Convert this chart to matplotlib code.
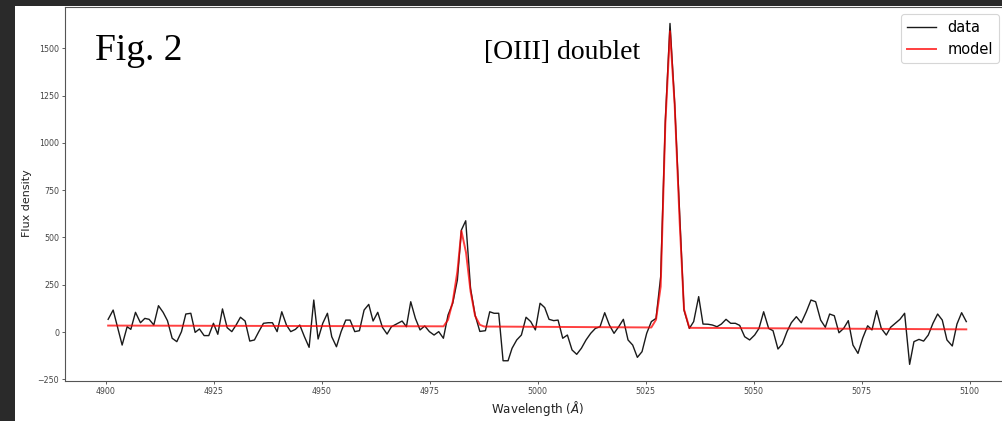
import matplotlib
matplotlib.use("Agg")
import matplotlib.pyplot as plt
from matplotlib.patches import Rectangle

# ---- data ----
data_wl = [4900.54, 4901.70, 4903.78, 4904.94, 4905.79, 4906.87, 4908.02, 4909.03, 4910.03, 4911.11,
           4912.19, 4913.27, 4914.27, 4915.36, 4916.44, 4917.52, 4918.52, 4919.68, 4920.68, 4921.68,
           4922.76, 4923.84, 4924.92, 4925.93, 4927.01, 4928.09, 4929.17, 4930.17, 4931.17, 4932.25,
           4933.33, 4934.41, 4935.42, 4936.50, 4937.58, 4938.58, 4939.66, 4940.74, 4941.82, 4942.82,
           4943.90, 4944.91, 4945.99, 4947.07, 4948.15, 4949.15, 4950.23, 4951.31, 4952.31, 4953.40,
           4954.48, 4955.56, 4956.56, 4957.64, 4958.72, 4959.80, 4960.88, 4961.88, 4962.96, 4964.04,
           4965.12, 4966.13, 4968.60, 4969.60, 4970.60, 4971.68, 4972.76, 4973.84, 4974.92, 4976.00,
           4977.08, 4978.16, 4979.24, 4980.32, 4981.40, 4982.33, 4983.33, 4984.45, 4985.50, 4986.60,
           4987.89, 4988.89, 4989.89, 4990.97, 4991.98, 4993.13, 4994.06, 4995.14, 4996.22, 4997.30,
           4998.38, 4999.46, 5000.54, 5001.62, 5002.62, 5003.70, 5004.71, 5005.79, 5006.87, 5007.95,
           5009.03, 5010.11, 5011.19, 5012.27, 5013.35, 5014.43, 5015.51, 5016.59, 5017.67, 5018.75,
           5019.83, 5020.91, 5021.99, 5023.07, 5024.15, 5025.23, 5026.31, 5027.39, 5028.47, 5029.55,
           5030.63, 5031.71, 5032.87, 5033.87, 5035.11, 5036.11, 5037.27, 5038.27, 5039.43, 5040.43,
           5041.51, 5042.52, 5043.60, 5044.68, 5045.76, 5046.76, 5047.92, 5049.07, 5050.23, 5051.23,
           5052.31, 5053.47, 5054.48, 5055.63, 5056.64, 5057.72, 5058.72, 5059.88, 5061.03, 5062.19,
           5063.27, 5064.35, 5065.51, 5066.59, 5067.59, 5068.67, 5069.75, 5070.83, 5071.91, 5072.99,
           5074.15, 5075.23, 5076.39, 5077.39, 5078.47, 5079.55, 5080.71, 5081.71, 5082.79, 5083.87,
           5084.95, 5086.11, 5087.11, 5088.27, 5089.35, 5090.43, 5091.51, 5092.59, 5093.67, 5094.75,
           5095.99, 5097.07, 5098.15, 5099.23]
data_flux = [67, 116, -69, 28, 14, 104, 49, 72, 67, 37,
             139, 104, 60, -33, -51, 2, 95, 99, -2, 16,
             -19, -19, 46, -12, 122, 23, 2, 37, 78, 58,
             -48, -42, 2, 46, 49, 49, 2, 107, 37, 2,
             14, 37, -25, -81, 169, -37, 46, 99, -25, -78,
             2, 63, 63, 2, 7, 116, 146, 58, 104, 25,
             -11, 28, 58, 28, 160, 72, 11, 32, 2, -16,
             2, -33, 90, 152, 275, 539, 588, 230, 90, 3,
             7, 107, 99, 99, -152, -152, -86, -42, -16, 78,
             55, 11, 152, 129, 67, 60, 63, -33, -16, -95,
             -118, -86, -42, -7, 19, 28, 102, 37, -7, 28,
             67, -42, -69, -134, -104, -7, 55, 72, 292, 1120,
             1631, 1209, 627, 116, 19, 55, 187, 42, 41, 37,
             28, 42, 67, 46, 46, 35, -25, -42, -16, 19,
             107, 19, 7, -90, -63, 2, 49, 81, 49, 107,
             169, 160, 63, 25, 95, 86, -4, 19, 60, -69,
             -113, -33, 33, 11, 113, 19, -16, 25, 46, 67,
             99, -171, -51, -39, -48, -16, 46, 95, 63, -42,
             -74, 42, 102, 55]

model_wl = [4900.54, 4978.20, 4979.24, 4980.32, 4981.40, 4982.33, 4983.40, 4984.45, 4985.50,
            4986.60, 4987.60, 5026.30, 5027.39, 5028.47, 5029.55, 5030.63, 5031.71, 5032.87,
            5033.87, 5035.11, 5099.23]
model_flux = [34, 30, 65, 160, 320, 535, 420, 215, 85,
              38, 29, 24, 65, 240, 1100, 1590, 1200, 580,
              120, 22, 14]

xticks = [4900, 4925, 4950, 4975, 5000, 5025, 5050, 5075, 5100]
yticks = [-250, 0, 250, 500, 750, 1000, 1250, 1500]

W, H = 1002, 421
fig = plt.figure(figsize=(W / 100, H / 100), dpi=100)
fig.patch.set_facecolor('#2a2a2a')
fig.patches.append(Rectangle((15 / W, 0), 1 - 15 / W, (H - 6) / H,
                             transform=fig.transFigure, facecolor='white',
                             edgecolor='none', zorder=-5))

ax = fig.add_axes([65 / W, 40 / H, 945 / W, 374 / H])
ax.set_zorder(2)
ax.set_facecolor('white')
ax.plot(data_wl, data_flux, color='#1a1a1a', lw=1.0, label='data')
ax.plot(model_wl, model_flux, color='red', lw=1.4, alpha=0.75, label='model')

ax.set_xlim(4890.55, 5109.35)
ax.set_ylim(-259, 1718)
ax.set_xticks(xticks)
ax.set_yticks(yticks)
ax.tick_params(labelsize=5.7, length=2.2, width=0.6, pad=2, colors='#444444')
for s in ax.spines.values():
    s.set_color('#555555')
    s.set_linewidth(0.8)

ax.set_xlabel(r'Wavelength ($\AA$)', fontsize=8.6, color='#222222')
ax.set_ylabel('Flux density', fontsize=8, color='#222222')
ax.xaxis.set_label_coords((538 - 65) / 945, -(409 - 381) / 374 - 0.0)
ax.yaxis.set_label_coords(-(65 - 27) / 945, (381 - 203) / 374)
ax.xaxis.label.set_va('center')
ax.yaxis.label.set_va('center')

fig.text(95 / W, 1 - 60 / H, 'Fig. 2', family='Liberation Serif', fontsize=27,
         color='black', ha='left', va='baseline', zorder=5)
fig.text(484 / W, 1 - 59 / H, '[OIII] doublet', family='Liberation Serif', fontsize=20,
         color='black', ha='left', va='baseline', zorder=5)

leg = ax.legend(loc='upper left', bbox_to_anchor=(900.7 / W, 1 - 14 / H),
                bbox_transform=fig.transFigure, borderaxespad=0, fontsize=10.5,
                frameon=True, fancybox=True)
leg.get_frame().set_edgecolor('#cccccc')
leg.get_frame().set_linewidth(0.8)

fig.savefig('out.png', dpi=100, facecolor=fig.get_facecolor())
